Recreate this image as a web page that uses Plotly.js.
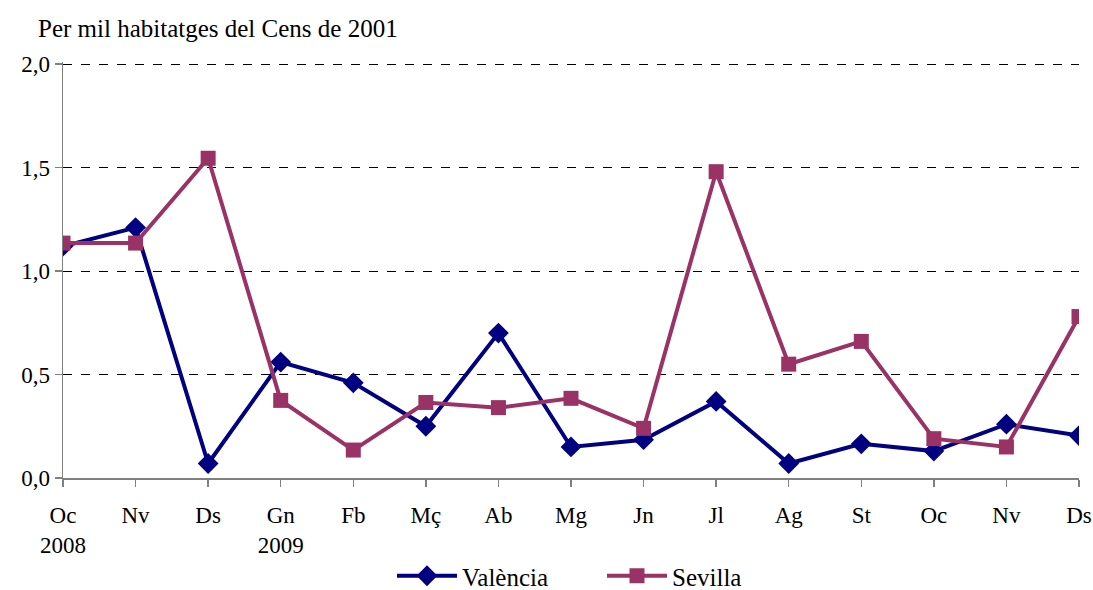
<!DOCTYPE html>
<html>
<head>
<meta charset="utf-8">
<script src="https://cdn.plot.ly/plotly-3.0.1.min.js"></script>
<style>
  body { margin: 0; background: #fff; }
  #chart { width: 1093px; height: 590px; }
</style>
</head>
<body>
<div id="chart"></div>
<script>
// Mesos: oct 2008 - des 2009
var mesos = ["Oc<br>2008", "Nv", "Ds", "Gn<br>2009", "Fb", "Mç", "Ab", "Mg", "Jn", "Jl", "Ag", "St", "Oc", "Nv", "Ds"];
var valencia = [1.12, 1.21, 0.07, 0.56, 0.46, 0.25, 0.70, 0.15, 0.185, 0.37, 0.07, 0.165, 0.13, 0.26, 0.205];
var sevilla  = [1.135, 1.135, 1.545, 0.375, 0.135, 0.365, 0.34, 0.385, 0.24, 1.48, 0.55, 0.66, 0.19, 0.15, 0.78];

var xs = mesos.map(function(m, i) { return i; });

var serif = "Liberation Serif";

var traces = [
  {
    x: xs, y: valencia, name: "València",
    type: "scatter", mode: "lines+markers",
    line: { color: "#000080", width: 4 },
    marker: { symbol: "diamond", size: 16, color: "#000080" }
  },
  {
    x: xs, y: sevilla, name: "Sevilla",
    type: "scatter", mode: "lines+markers",
    line: { color: "#993366", width: 4 },
    marker: { symbol: "square", size: 15, color: "#993366" }
  }
];

var layout = {
  width: 1093, height: 590,
  margin: { l: 63, r: 14, t: 62, b: 112 },
  paper_bgcolor: "#fff", plot_bgcolor: "#fff",
  font: { family: serif, size: 23, color: "#000" },
  separators: ",.",
  showlegend: true,
  title: {
    text: "Per mil habitatges del Cens de 2001",
    xref: "container", x: 38 / 1093, xanchor: "left",
    yref: "container", y: 1 - 28 / 590, yanchor: "middle",
    font: { family: serif, size: 25 }
  },
  xaxis: {
    range: [0, 14],
    tickmode: "array", tickvals: xs, ticktext: mesos,
    ticklabeloverflow: "allow", ticklabelstandoff: 9,
    showgrid: false, zeroline: false,
    showline: true, linecolor: "#808080", linewidth: 1.5,
    ticks: "outside", ticklen: 7, tickcolor: "#808080", tickwidth: 1.5,
    tickfont: { family: serif, size: 23 }
  },
  yaxis: {
    range: [0, 2.01], dtick: 0.5, tickformat: ".1f",
    showgrid: true, gridcolor: "#000", gridwidth: 1, griddash: "dash",
    zeroline: false,
    showline: true, linecolor: "#808080", linewidth: 1.5,
    ticks: "outside", ticklen: 7, tickcolor: "#808080", tickwidth: 1.5,
    tickfont: { family: serif, size: 23 }
  },
  legend: {
    orientation: "h",
    xref: "container", x: 392 / 1093, xanchor: "left",
    yref: "container", y: 14 / 590, yanchor: "middle",
    font: { family: serif, size: 25 }, itemwidth: 60, entrywidth: 135
  }
};

Plotly.newPlot("chart", traces, layout, { displayModeBar: false, staticPlot: true });
</script>
</body>
</html>
